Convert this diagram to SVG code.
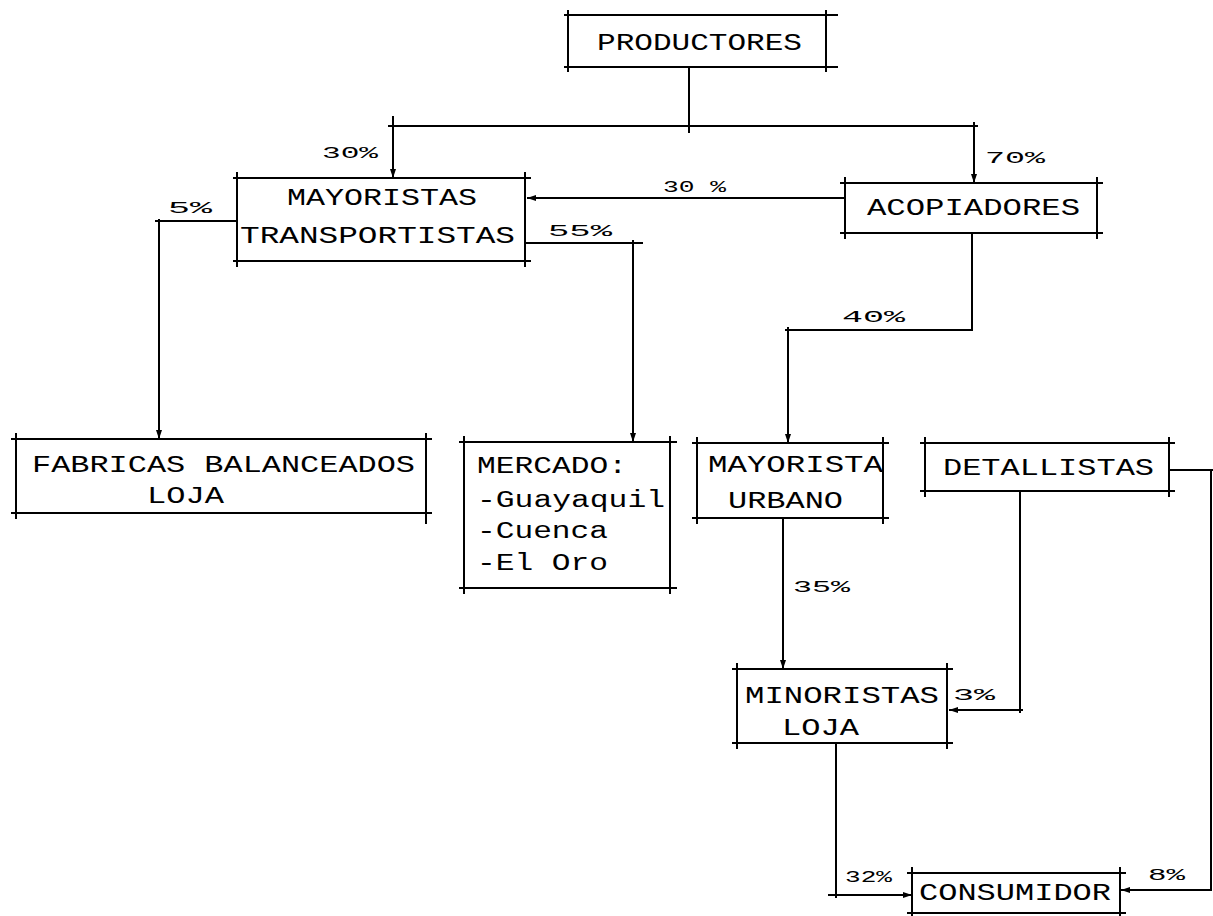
<svg xmlns="http://www.w3.org/2000/svg" width="1213" height="916" viewBox="0 0 1213 916">
<style>
.bg{fill:#fff}
.box{fill:none;stroke:#000;stroke-width:2}
.con{fill:none;stroke:#000;stroke-width:2}
.t{font-family:"Liberation Mono","DejaVu Sans Mono",monospace;font-size:23px;fill:#000}
.p{font-family:"Liberation Mono","DejaVu Sans Mono",monospace;font-size:17px;fill:#000}
</style>
<defs>
<marker id="ah" markerUnits="userSpaceOnUse" markerWidth="10" markerHeight="8" refX="9" refY="4" orient="auto">
<path d="M0,1 L9,4 L0,7 Z" fill="#000"/>
</marker>
</defs>
<rect class="bg" width="1213" height="916"/>

<g id="connectors">
<path class="con" d="M689 67 V133"/>
<path class="con" d="M388 126 H978"/>
<path class="con" d="M393 116 V178" marker-end="url(#ah)"/>
<path class="con" d="M974 122 V183" marker-end="url(#ah)"/>
<path class="con" d="M845 198 H527" marker-end="url(#ah)"/>
<path class="con" d="M237 221 H155"/>
<path class="con" d="M159 219 V439" marker-end="url(#ah)"/>
<path class="con" d="M525 243 H643"/>
<path class="con" d="M633 240 V442" marker-end="url(#ah)"/>
<path class="con" d="M972 233 V330 H785"/>
<path class="con" d="M788 327 V443" marker-end="url(#ah)"/>
<path class="con" d="M783 518 V669" marker-end="url(#ah)"/>
<path class="con" d="M1023 710 H949" marker-end="url(#ah)"/>
<path class="con" d="M1020 491 V713"/>
<path class="con" d="M836 743 V898"/>
<path class="con" d="M828 895 H912" marker-end="url(#ah)"/>
<path class="con" d="M1169 470 H1213"/>
<path class="con" d="M1211 470 V890 H1121" marker-end="url(#ah)"/>
<text class="p" x="322" y="158" textLength="56" lengthAdjust="spacingAndGlyphs">30%</text>
<text class="p" x="985" y="163" textLength="60" lengthAdjust="spacingAndGlyphs">70%</text>
<text class="p" x="663" y="192" textLength="63" lengthAdjust="spacingAndGlyphs">30 %</text>
<text class="p" x="168" y="213" textLength="44" lengthAdjust="spacingAndGlyphs">5%</text>
<text class="p" x="548" y="236" textLength="64" lengthAdjust="spacingAndGlyphs">55%</text>
<text class="p" x="842" y="322" textLength="63" lengthAdjust="spacingAndGlyphs">40%</text>
<text class="p" x="793" y="592" textLength="57" lengthAdjust="spacingAndGlyphs">35%</text>
<text class="p" x="953" y="700" textLength="42" lengthAdjust="spacingAndGlyphs">3%</text>
<text class="p" x="845" y="882" textLength="47" lengthAdjust="spacingAndGlyphs">32%</text>
<text class="p" x="1148" y="880" textLength="37" lengthAdjust="spacingAndGlyphs">8%</text>
</g>

<g id="productores">
<path class="box" d="M564 15 H838 M564 67 H838 M568 10 V72 M826 10 V72"/>
<text class="t" x="597" y="50" textLength="205" lengthAdjust="spacingAndGlyphs">PRODUCTORES</text>
</g>

<g id="mayoristas">
<path class="box" d="M233 178 H531 M233 261 H531 M237 172 V267 M525 172 V267"/>
<text class="t" x="287" y="205" textLength="190" lengthAdjust="spacingAndGlyphs">MAYORISTAS</text>
<text class="t" x="240" y="243" textLength="275" lengthAdjust="spacingAndGlyphs">TRANSPORTISTAS</text>
</g>

<g id="acopiadores">
<path class="box" d="M840 183 H1103 M840 233 H1103 M845 177 V239 M1097 177 V239"/>
<text class="t" x="867" y="215" textLength="213" lengthAdjust="spacingAndGlyphs">ACOPIADORES</text>
</g>

<g id="fabricas">
<path class="box" d="M11 439 H432 M11 513 H432 M16 433 V519 M426 433 V524"/>
<text class="t" x="32" y="472" textLength="383" lengthAdjust="spacingAndGlyphs">FABRICAS BALANCEADOS</text>
<text class="t" x="147" y="503" textLength="77" lengthAdjust="spacingAndGlyphs">LOJA</text>
</g>

<g id="mercado">
<path class="box" d="M459 442 H677 M459 588 H677 M464 436 V594 M670 436 V594"/>
<text class="t" x="477" y="473" textLength="150" lengthAdjust="spacingAndGlyphs">MERCADO:</text>
<text class="t" x="477" y="507" textLength="188" lengthAdjust="spacingAndGlyphs">-Guayaquil</text>
<text class="t" x="477" y="538" textLength="131" lengthAdjust="spacingAndGlyphs">-Cuenca</text>
<text class="t" x="477" y="570" textLength="131" lengthAdjust="spacingAndGlyphs">-El Oro</text>
</g>

<g id="mayorista-urbano">
<path class="box" d="M692 443 H889 M692 518 H889 M697 437 V524 M883 437 V524"/>
<text class="t" x="708" y="472" textLength="175" lengthAdjust="spacingAndGlyphs">MAYORISTA</text>
<text class="t" x="728" y="508" textLength="115" lengthAdjust="spacingAndGlyphs">URBANO</text>
</g>

<g id="detallistas">
<path class="box" d="M920 443 H1175 M920 491 H1175 M925 437 V497 M1169 437 V497"/>
<text class="t" x="943" y="475" textLength="211" lengthAdjust="spacingAndGlyphs">DETALLISTAS</text>
</g>

<g id="minoristas">
<path class="box" d="M732 669 H953 M732 743 H953 M737 663 V749 M947 663 V749"/>
<text class="t" x="745" y="703" textLength="194" lengthAdjust="spacingAndGlyphs">MINORISTAS</text>
<text class="t" x="782" y="735" textLength="77" lengthAdjust="spacingAndGlyphs">LOJA</text>
</g>

<g id="consumidor">
<path class="box" d="M907 873 H1126 M907 913 H1126 M912 867 V916 M1120 867 V916"/>
<text class="t" x="919" y="900" textLength="192" lengthAdjust="spacingAndGlyphs">CONSUMIDOR</text>
</g>
</svg>
